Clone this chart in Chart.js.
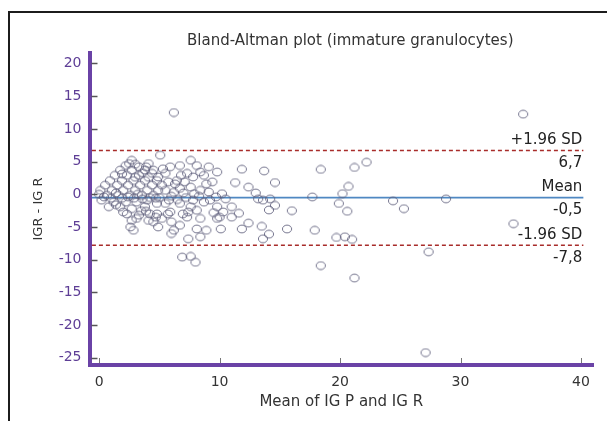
<!DOCTYPE html>
<html><head><meta charset="utf-8">
<script src="https://cdn.jsdelivr.net/npm/chart.js@4.4.1/dist/chart.umd.min.js"></script>
<style>html,body{margin:0;padding:0;background:#fff;}#wrap{width:607px;height:421px;position:relative;}</style>
</head><body><div id="wrap"><canvas id="c" width="607" height="421"></canvas></div>
<script>
const chartTitle = 'Bland-Altman plot (immature granulocytes)';
const xTitle = 'Mean of IG P and IG R';
const yTitle = 'IGR - IG R';
const xTicks = [0, 10, 20, 30, 40];
const yTicks = [20, 15, 10, 5, 0, -5, -10, -15, -20, -25];

const meanX = [
 0.0,0.1,0.5,0.9,1.3,1.75,2.2,2.7,3.3,2.7,3.8,2.3,3.3,4.4,1.9,2.85,3.8,4.8,1.5,2.4,3.4,4.4,1.05,2.0,3.0,4.0,4.9,
 0.65,1.6,2.6,3.55,4.5,0.2,1.2,2.2,3.1,0.8,1.75,2.7,3.8,2.3,3.3,2.7,2.6,4.2,4.5,4.9,2.85,3.1,2.0,4.0,4.8,4.1,4.5,5.07,2.5,
 1.0,1.4,2.9,3.6,4.2,0.4,1.9,2.4,3.2,4.7,3.9,3.5,1.4,3.0,3.9,3.0,1.9,4.1,3.6,4.7,4.1,
 5.3,5.9,6.7,7.6,8.1,9.1,7.3,7.8,8.7,9.4,6.45,5.75,4.9,5.5,6.7,7.6,8.4,9.1,5.2,5.9,6.0,6.2,6.7,7.3,7.6,8.1,8.4,8.1,8.9,
 9.8,9.8,6.9,7.6,8.0,5.5,6.7,8.7,4.8,6.8,8.4,9.8,7.1,6.3,5.8,7.4,8.4,6.0,9.2,9.7,6.95,7.4,5.7,5.0,6.0,6.5,7.2,7.8,8.3,
 6.2,7.0,6.2,5.5,8.9,9.5,7.9,5.2,
 11.85,13.7,14.6,11.3,12.4,10.2,10.5,13.0,13.2,13.6,14.2,14.1,14.6,16.0,11.0,10.3,11.0,11.6,10.0,10.1,11.85,12.4,13.5,
 14.1,13.6,15.6,17.9,18.4,17.7,18.4,20.7,20.2,19.9,20.6,21.2,22.2,19.7,20.4,21.0,21.2,24.4,25.3,28.8,34.4,27.35,27.1,35.2
];
const diffY = [
 0.0,0.6,1.4,2.1,2.9,3.7,4.4,5.2,4.2,3.7,3.7,2.9,2.9,3.2,2.1,2.1,2.1,2.1,1.4,1.4,1.4,1.4,0.6,0.6,0.6,0.6,0.6,
 -0.15,-0.15,-0.15,-0.15,-0.15,-0.9,-1.2,-1.2,-1.2,-1.9,-1.9,-2.2,-1.9,-3.0,-3.2,-4.0,-5.0,-3.0,-4.2,-5.0,-5.5,-3.7,-2.7,-0.9,-1.4,4.7,3.7,5.97,4.7,
 -0.6,0.2,-0.6,-0.7,-0.5,-0.4,-0.6,-0.4,0.0,-0.6,-2.6,-2.5,-1.6,2.6,4.2,4.6,3.1,2.6,3.3,-3.5,-4.0,
 3.9,4.2,4.4,5.2,4.4,4.2,3.2,2.65,2.9,1.9,2.1,1.9,2.65,0.6,0.9,1.1,0.6,0.35,-3.7,-2.7,-4.2,-5.5,-4.75,-3.5,-1.9,-2.45,-3.7,-5.3,-5.5,
 -3.7,-1.9,-9.6,-9.5,-10.4,-1.4,-1.4,-1.2,-3.0,2.9,3.4,3.4,1.9,1.6,-0.9,-6.8,-6.5,-6.0,-0.9,-0.4,-3.0,-2.7,-3.0,-0.5,-0.3,-0.8,-0.5,-0.9,-0.3,
 0.3,0.2,12.5,3.2,1.6,-2.8,0.1,1.4,
 3.83,3.57,1.8,1.8,1.1,0.1,-0.7,0.2,-0.7,-0.9,-0.7,-2.4,-1.7,-2.5,-1.9,-2.7,-3.5,-2.9,-3.5,-5.3,-5.3,-4.4,-4.9,
 -6.1,-6.8,-5.3,-5.5,3.8,-0.4,-10.9,1.2,0.1,-1.4,-2.6,4.1,4.9,-6.6,-6.5,-6.9,-12.8,-1.0,-2.2,-0.7,-4.5,-8.8,-24.2,12.25
];

const limitValues = [6.7, -0.5, -7.8];
const limitNames = ['+1.96 SD', 'Mean', '-1.96 SD'];
const limitLabels = ['6,7', '-0,5', '-7,8'];
const lineFromX = -0.6, lineToX = 40.2;

const purple = '#6a42a6';
const FONT = 'DejaVu Sans';

// elliptical marker (source image is slightly stretched horizontally)
const marker = document.createElement('canvas');
marker.width = 12; marker.height = 10;
(function(){
  const m = marker.getContext('2d');
  m.strokeStyle = 'rgba(95,95,125,0.85)';
  m.lineWidth = 1;
  m.beginPath();
  m.ellipse(6, 5, 4.6, 3.9, 0, 0, Math.PI * 2);
  m.stroke();
})();

const points = meanX.map((x, i) => ({x: x, y: diffY[i]}));

const lineSets = limitValues.map((v, i) => ({
  type: 'line',
  data: [{x: lineFromX, y: v}, {x: lineToX, y: v}],
  borderColor: i === 1 ? '#4f88c2' : '#a82c2a',
  borderWidth: i === 1 ? 1.8 : 1.6,
  borderDash: i === 1 ? [] : [4, 3],
  pointRadius: 0,
  fill: false
}));

const framePlugin = {
  id: 'frame',
  beforeDraw(chart) {
    const c = chart.ctx;
    c.save();
    c.fillStyle = '#fff';
    c.fillRect(0, 0, chart.width, chart.height);
    c.strokeStyle = '#1c1c1c';
    c.lineWidth = 2;
    c.beginPath();
    c.moveTo(9, chart.height);
    c.lineTo(9, 12);
    c.lineTo(chart.width, 12);
    c.stroke();
    c.restore();
  }
};

const decoPlugin = {
  id: 'deco',
  afterDraw(chart) {
    const c = chart.ctx, a = chart.chartArea;
    const xs = chart.scales.x, ys = chart.scales.y;
    c.save();
    // inner tick marks
    c.strokeStyle = '#555';
    c.lineWidth = 1.5;
    ys.ticks.forEach(t => {
      const py = Math.round(ys.getPixelForValue(t.value)) + 0.5;
      c.beginPath(); c.moveTo(a.left + 2, py); c.lineTo(a.left + 8, py); c.stroke();
    });
    c.strokeStyle = '#777';
    c.lineWidth = 1;
    xs.ticks.forEach(t => {
      const px = Math.round(xs.getPixelForValue(t.value)) + 0.5;
      c.beginPath(); c.moveTo(px, a.bottom - 2); c.lineTo(px, a.bottom - 7); c.stroke();
    });
    // title
    c.fillStyle = '#333';
    c.font = '15px "' + FONT + '"';
    c.textAlign = 'center';
    c.textBaseline = 'middle';
    c.fillText(chartTitle, (a.left + a.right) / 2 + 9, 41);
    // limit labels
    c.fillStyle = '#222';
    c.textAlign = 'right';
    const rx = xs.getPixelForValue(lineToX) - 1;
    limitValues.forEach((v, i) => {
      const py = ys.getPixelForValue(v);
      c.fillText(limitNames[i], rx, py - 10);
      c.fillText(limitLabels[i], rx, py + 13);
    });
    c.restore();
  }
};

new Chart(document.getElementById('c'), {
  type: 'scatter',
  data: {
    datasets: [{
      data: points,
      pointStyle: marker,
      pointRadius: 4,
      pointHoverRadius: 4
    }].concat(lineSets)
  },
  options: {
    responsive: false,
    animation: false,
    devicePixelRatio: 1,
    layout: {padding: {left: 20, right: 14, top: 53, bottom: 0}},
    plugins: {legend: {display: false}, tooltip: {enabled: false}, title: {display: false}},
    scales: {
      x: {
        type: 'linear', min: -0.8, max: 41,
        afterBuildTicks: s => { s.ticks = xTicks.map(v => ({value: v})); },
        afterFit: s => { s.height = 56; },
        grid: {drawOnChartArea: false, drawTicks: false},
        border: {display: true, color: purple, width: 4},
        ticks: {padding: 9, color: '#333', font: {family: FONT, size: 14}, maxRotation: 0},
        title: {display: true, text: xTitle, color: '#333', font: {family: FONT, size: 15}, padding: {top: 0, bottom: 10}}
      },
      y: {
        type: 'linear', min: -26.1, max: 21.6,
        afterBuildTicks: s => { s.ticks = yTicks.map(v => ({value: v})); },
        afterFit: s => { s.width = 69.5; },
        grid: {drawOnChartArea: false, drawTicks: false},
        border: {display: true, color: purple, width: 4},
        ticks: {padding: 8, color: '#5e3e96', font: {family: FONT, size: 14}},
        title: {display: true, text: yTitle, color: '#333', font: {family: FONT, size: 13}, padding: {top: 11, bottom: 0}}
      }
    }
  },
  plugins: [framePlugin, decoPlugin]
});
</script>
</body></html>
